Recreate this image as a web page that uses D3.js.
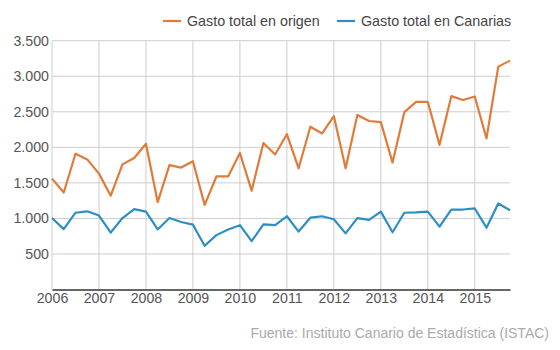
<!DOCTYPE html>
<html><head><meta charset="utf-8">
<script src="https://cdn.jsdelivr.net/npm/d3@7"></script>
<style>
body{margin:0;background:#fff;}
svg{display:block;font-family:"Liberation Sans",Arial,sans-serif;}
</style></head>
<body><svg id="c" width="560" height="350"></svg>
<script>
const years = [2006,2007,2008,2009,2010,2011,2012,2013,2014,2015];
const quarters = ["T1","T2","T3","T4"];
const seriesNames = ["Gasto total en origen","Gasto total en Canarias"];
const gastoOrigen = [
 1560,1365,1910,1830,1630,1320,1760,1850,2050,1230,1750,1715,
 1805,1190,1590,1590,1920,1390,2060,1900,2185,1705,2290,2195,
 2440,1705,2455,2370,2355,1785,2495,2640,2640,2035,2720,2665,
 2715,2125,3135,3220];
const gastoCanarias = [
 1005,850,1080,1100,1040,800,1005,1130,1095,845,1005,950,
 912,615,765,845,905,680,915,905,1030,815,1010,1030,
 988,790,1005,980,1095,805,1080,1085,1095,885,1125,1125,
 1140,870,1210,1115];
const yTicks = [500,1000,1500,2000,2500,3000,3500];
const colors = ["#e07b39","#2b8fc6"];
const source = "Fuente: Instituto Canario de Estadística (ISTAC)";

const times = [];
years.forEach(y => quarters.forEach((q,i) => times.push(y + i*0.25)));

const svg = d3.select("#c");
const m = {l:52, r:50, t:40.7, b:60.5};
const W = 560, H = 350;
const x = d3.scaleLinear().domain([2006, 2015.75]).range([m.l, W-m.r]);
const y = d3.scaleLinear().domain([0,3500]).range([H-m.b, m.t]);

// grid
svg.append("g").selectAll("line.h").data(yTicks).join("line")
  .attr("x1", m.l).attr("x2", W-m.r)
  .attr("y1", d=>y(d)).attr("y2", d=>y(d))
  .attr("stroke","#cdcdcd").attr("stroke-width",1);
svg.append("g").selectAll("line.v").data(years).join("line")
  .attr("x1", d=>x(d)).attr("x2", d=>x(d))
  .attr("y1", y(3500)).attr("y2", y(0))
  .attr("stroke","#cdcdcd").attr("stroke-width",1);

// y axis labels
const fmt = d => d3.format(",")(d).replace(/,/g,".");
const ya = svg.append("g").attr("transform",`translate(${m.l},0)`)
  .call(d3.axisLeft(y).tickValues(yTicks).tickFormat(fmt).tickSize(0).tickPadding(3));
ya.select(".domain").remove();
ya.selectAll("text").attr("fill","#555").style("font-size","14.2px").style("font-family","'Liberation Sans',Arial,sans-serif");

// x axis
const xa = svg.append("g").attr("transform",`translate(0,${y(0)})`)
  .call(d3.axisBottom(x).tickValues(years).tickFormat(d3.format("d")).tickSize(0).tickPadding(3));
xa.select(".domain").attr("stroke","#333").attr("stroke-width",1.5);
xa.selectAll("text").attr("fill","#555").style("font-size","14.2px").style("font-family","'Liberation Sans',Arial,sans-serif");

// lines
const line = d3.line().x((d,i)=>x(times[i])).y(d=>y(d));
[gastoOrigen, gastoCanarias].forEach((s,k)=>{
  svg.append("path").datum(s).attr("d", line)
    .attr("fill","none").attr("stroke", colors[k]).attr("stroke-width",2.2)
    .attr("stroke-linejoin","round");
});

// legend
const legX = [163, 337];
seriesNames.forEach((n,k)=>{
  const g = svg.append("g").attr("transform",`translate(${legX[k]},21)`);
  g.append("line").attr("x1",0).attr("x2",18).attr("y1",0).attr("y2",0)
    .attr("stroke",colors[k]).attr("stroke-width",2.2);
  g.append("text").attr("x",24).attr("y",0).attr("dy","0.35em")
    .attr("fill","#444").style("font-size","14.3px").text(n);
});

// source
svg.append("text").attr("x",549).attr("y",338).attr("text-anchor","end")
  .attr("fill","#aaa").style("font-size","14px").text(source);
</script></body></html>
